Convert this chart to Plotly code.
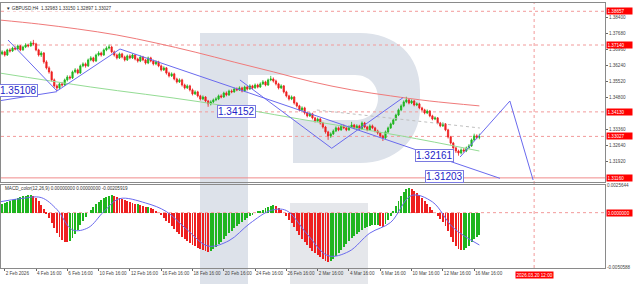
import plotly.graph_objects as go
import pandas as pd

# ---------------- data ----------------
first_open = 1.3665
close = [
    1.3674, 1.3683, 1.3669, 1.3692, 1.3687, 1.3700, 1.3696, 1.3710, 1.3692, 1.3705,
    1.3714, 1.3710, 1.3723, 1.3719, 1.3692, 1.3669, 1.3678, 1.3638, 1.3611, 1.3593,
    1.3557, 1.3530, 1.3521, 1.3539, 1.3534, 1.3557, 1.3570, 1.3566, 1.3593, 1.3602,
    1.3588, 1.3620, 1.3629, 1.3620, 1.3647, 1.3656, 1.3642, 1.3669, 1.3678, 1.3669,
    1.3692, 1.3700, 1.3705, 1.3683, 1.3669, 1.3656, 1.3674, 1.3660, 1.3647, 1.3665,
    1.3656, 1.3669, 1.3651, 1.3642, 1.3660, 1.3647, 1.3633, 1.3656, 1.3642, 1.3629,
    1.3638, 1.3620, 1.3602, 1.3611, 1.3588, 1.3575, 1.3584, 1.3561, 1.3548, 1.3557,
    1.3534, 1.3521, 1.3530, 1.3512, 1.3494, 1.3503, 1.3485, 1.3471, 1.3480, 1.3462,
    1.3449, 1.3458, 1.3467, 1.3471, 1.3485, 1.3480, 1.3498, 1.3489, 1.3507, 1.3503,
    1.3516, 1.3512, 1.3521, 1.3507, 1.3525, 1.3516, 1.3530, 1.3521, 1.3534, 1.3525,
    1.3539, 1.3548, 1.3534, 1.3557, 1.3561, 1.3552, 1.3539, 1.3521, 1.3530, 1.3503,
    1.3485, 1.3471, 1.3480, 1.3453, 1.3440, 1.3422, 1.3431, 1.3408, 1.3395, 1.3404,
    1.3386, 1.3372, 1.3381, 1.3363, 1.3345, 1.3323, 1.3305, 1.3314, 1.3327, 1.3341,
    1.3332, 1.3350, 1.3341, 1.3332, 1.3345, 1.3354, 1.3341, 1.3350, 1.3336, 1.3363,
    1.3345, 1.3332, 1.3350, 1.3341, 1.3327, 1.3318, 1.3305, 1.3296, 1.3323, 1.3341,
    1.3359, 1.3377, 1.3399, 1.3422, 1.3440, 1.3458, 1.3467, 1.3453, 1.3462, 1.3444,
    1.3449, 1.3431, 1.3422, 1.3408, 1.3417, 1.3395, 1.3381, 1.3386, 1.3363, 1.3350,
    1.3359, 1.3332, 1.3300, 1.3273, 1.3251, 1.3237, 1.3228, 1.3242, 1.3237, 1.3251,
    1.3260, 1.3287, 1.3305, 1.32983, 1.33027,
]
high = [
    1.3680, 1.3690, 1.3688, 1.3697, 1.3699, 1.3706, 1.3708, 1.3716, 1.3714, 1.3711,
    1.3722, 1.3720, 1.3731, 1.3737, 1.3724, 1.3697, 1.3686, 1.3682, 1.3645, 1.3618,
    1.3598, 1.3563, 1.3537, 1.3545, 1.3548, 1.3563, 1.3578, 1.3577, 1.3599, 1.3610,
    1.3608, 1.3626, 1.3636, 1.3635, 1.3653, 1.3664, 1.3661, 1.3675, 1.3686, 1.3684,
    1.3698, 1.3708, 1.3716, 1.3710, 1.3689, 1.3675, 1.3680, 1.3679, 1.3666, 1.3671,
    1.3672, 1.3676, 1.3673, 1.3657, 1.3667, 1.3665, 1.3652, 1.3662, 1.3661, 1.3648,
    1.3645, 1.3643, 1.3626, 1.3618, 1.3615, 1.3594, 1.3591, 1.3589, 1.3567, 1.3564,
    1.3562, 1.3540, 1.3537, 1.3535, 1.3518, 1.3510, 1.3508, 1.3490, 1.3487, 1.3484,
    1.3467, 1.3465, 1.3473, 1.3479, 1.3491, 1.3492, 1.3504, 1.3505, 1.3513, 1.3514,
    1.3522, 1.3523, 1.3528, 1.3526, 1.3531, 1.3530, 1.3537, 1.3535, 1.3541, 1.3540,
    1.3546, 1.3556, 1.3553, 1.3563, 1.3575, 1.3568, 1.3558, 1.3544, 1.3537, 1.3534,
    1.3508, 1.3490, 1.3487, 1.3484, 1.3458, 1.3445, 1.3438, 1.3436, 1.3413, 1.3411,
    1.3409, 1.3391, 1.3388, 1.3386, 1.3368, 1.3350, 1.3328, 1.3321, 1.3334, 1.3348,
    1.3347, 1.3357, 1.3356, 1.3346, 1.3352, 1.3368, 1.3359, 1.3357, 1.3355, 1.3370,
    1.3368, 1.3350, 1.3357, 1.3356, 1.3346, 1.3333, 1.3323, 1.3310, 1.3329, 1.3347,
    1.3365, 1.3383, 1.3405, 1.3428, 1.3447, 1.3465, 1.3481, 1.3474, 1.3469, 1.3467,
    1.3456, 1.3454, 1.3436, 1.3427, 1.3424, 1.3421, 1.3400, 1.3393, 1.3390, 1.3368,
    1.3366, 1.3363, 1.3337, 1.3305, 1.3278, 1.3256, 1.3243, 1.3249, 1.3250, 1.3257,
    1.3268, 1.3293, 1.3315, 1.3312, 1.33150,
]
low = [
    1.3660, 1.3668, 1.3662, 1.3665, 1.3680, 1.3683, 1.3690, 1.3692, 1.3686, 1.3688,
    1.3700, 1.3703, 1.3706, 1.3712, 1.3686, 1.3662, 1.3660, 1.3630, 1.3604, 1.3585,
    1.3550, 1.3522, 1.3508, 1.3515, 1.3526, 1.3530, 1.3550, 1.3558, 1.3561, 1.3587,
    1.3582, 1.3584, 1.3614, 1.3612, 1.3615, 1.3641, 1.3636, 1.3638, 1.3663, 1.3662,
    1.3665, 1.3686, 1.3694, 1.3677, 1.3662, 1.3649, 1.3651, 1.3654, 1.3640, 1.3642,
    1.3650, 1.3651, 1.3645, 1.3635, 1.3637, 1.3641, 1.3626, 1.3628, 1.3636, 1.3622,
    1.3623, 1.3614, 1.3595, 1.3597, 1.3581, 1.3568, 1.3570, 1.3555, 1.3541, 1.3543,
    1.3527, 1.3514, 1.3516, 1.3505, 1.3487, 1.3489, 1.3478, 1.3464, 1.3466, 1.3455,
    1.3436, 1.3442, 1.3452, 1.3461, 1.3466, 1.3474, 1.3476, 1.3483, 1.3485, 1.3497,
    1.3499, 1.3506, 1.3507, 1.3501, 1.3503, 1.3510, 1.3512, 1.3515, 1.3517, 1.3519,
    1.3521, 1.3534, 1.3528, 1.3530, 1.3551, 1.3545, 1.3532, 1.3514, 1.3516, 1.3496,
    1.3478, 1.3464, 1.3466, 1.3446, 1.3433, 1.3415, 1.3417, 1.3401, 1.3388, 1.3390,
    1.3379, 1.3365, 1.3367, 1.3356, 1.3338, 1.3315, 1.3287, 1.3296, 1.3309, 1.3322,
    1.3326, 1.3328, 1.3335, 1.3326, 1.3328, 1.3340, 1.3335, 1.3336, 1.3330, 1.3332,
    1.3339, 1.3326, 1.3328, 1.3335, 1.3321, 1.3311, 1.3298, 1.3282, 1.3291, 1.3318,
    1.3336, 1.3354, 1.3372, 1.3394, 1.3416, 1.3434, 1.3452, 1.3447, 1.3448, 1.3438,
    1.3439, 1.3425, 1.3416, 1.3402, 1.3403, 1.3389, 1.3375, 1.3376, 1.3357, 1.3344,
    1.3345, 1.3326, 1.3293, 1.3266, 1.3244, 1.3228, 1.3216, 1.3222, 1.3230, 1.3232,
    1.3245, 1.3255, 1.3281, 1.3290, 1.32897,
]
macd = [
    0.00074, 0.00084, 0.00093, 0.00102, 0.00112, 0.00121, 0.0013, 0.0014, 0.00149, 0.00153,
    0.00158, 0.00163, 0.00167, 0.00158, 0.0014, 0.00112, 0.00074, 0.00037,
    -0.00009, -0.00047, -0.00093, -0.0014, -0.00186, -0.00223, -0.00251, -0.0027, -0.00274,
    -0.0026, -0.00233, -0.00195, -0.00158, -0.00112, -0.00074, -0.00037, 0.0,
    0.00028, 0.00056, 0.00084, 0.00102, 0.00121, 0.0014, 0.00149, 0.00158, 0.00163, 0.00158,
    0.00149, 0.0014, 0.0013, 0.00121, 0.00112, 0.00102, 0.00093, 0.00084, 0.00084, 0.00074,
    0.00065, 0.00056, 0.00056, 0.00047,
    0.00037, 0.00019, 0.0, -0.00019, -0.00047, -0.00074, -0.00093, -0.00121, -0.00149, -0.00177,
    -0.00195, -0.00223, -0.00242, -0.0026, -0.00279, -0.00298, -0.00307, -0.00326, -0.00335,
    -0.00344, -0.00353, -0.00363, -0.00353,
    -0.00335, -0.00316, -0.00288, -0.0027, -0.00242, -0.00214, -0.00186, -0.00167, -0.0014,
    -0.00121, -0.00102, -0.00084, -0.00065, -0.00047, -0.00028, -0.00019, 0.0, 0.00009,
    0.00019, 0.00028, 0.00047, 0.00056, 0.00065, 0.00074,
    0.00065, 0.00047, 0.00028, 0.0, -0.00028, -0.00065, -0.00093, -0.0013, -0.00167, -0.00205,
    -0.00242, -0.0027, -0.00298, -0.00326, -0.00353, -0.00372, -0.00391, -0.00409, -0.00428,
    -0.00446, -0.00456, -0.00446,
    -0.00428, -0.004, -0.00372, -0.00344, -0.00316, -0.00288, -0.0026, -0.00233, -0.00214,
    -0.00195, -0.00177, -0.00158, -0.0014, -0.0013, -0.00121, -0.00112, -0.00112, -0.00112,
    -0.00121, -0.0013,
    -0.00102, -0.00065, -0.00028, 0.00019, 0.00065, 0.00112, 0.00158, 0.00195, 0.00223,
    0.00233, 0.00223, 0.00205, 0.00186, 0.00167, 0.0014, 0.00112, 0.00084, 0.00056, 0.00028,
    0.0, -0.00028, -0.00056, -0.00084, -0.00121, -0.00167, -0.00223, -0.0027, -0.00307, -0.00335,
    -0.00344, -0.00344, -0.00326, -0.00307, -0.0027, -0.00242, -0.00223, -0.00206,
]
signal_idx = [0, 8, 16, 22, 28, 34, 40, 46, 56, 64, 72, 80, 88, 96, 104, 110, 118, 126,
              134, 142, 150, 158, 166, 174, 184]
signal_val = [0.0010, 0.0013, 0.0014, 0.0003, -0.0016, -0.0014, 0.0001, 0.0013, 0.0009,
              0.0001, -0.0016, -0.0031, -0.0026, -0.0010, 0.0002, 0.0002, -0.0020, -0.0040,
              -0.0036, -0.0019, -0.0009, 0.0016, 0.0010, -0.0014, -0.0030]

ma_slow_idx = [0, 15, 30, 45, 60, 75, 90, 105, 120, 135, 150, 165, 184]
ma_slow_val = [1.38265, 1.38085, 1.3786, 1.3759, 1.3723, 1.3682, 1.3637, 1.3593,
               1.3548, 1.3512, 1.3485, 1.3462, 1.3440]
ma_fast_idx = [0, 35, 77, 115, 154, 184]
ma_fast_val = [1.3588, 1.3525, 1.3458, 1.3381, 1.3305, 1.3237]

# analysis lines: (bar index, price)
wave_lines = [
    [(3.26, 1.37365), (22.05, 1.3507)],
    [(0.19, 1.34634), (22.05, 1.3504)],
    [(22.05, 1.3507), (46.2, 1.3696)],
    [(46.2, 1.3696), (191.9, 1.3114)],
    [(92.2, 1.35565), (127.4, 1.32492)],
    [(127.4, 1.32492), (154.7, 1.34769)],
    [(176.6, 1.3210), (195.7, 1.3462), (204.6, 1.31065)],
]
dotted_trend = [(121.7, 1.34215), (184.2, 1.33405)]

box_labels = [("1.35108", 14.76, 1.35108, "right"), ("1.34152", 83.4, 1.34152, "left"),
              ("1.32161", 159.3, 1.32161, "left"), ("1.31203", 163.2, 1.31203, "left")]

level_prices = [1.38657, 1.3714, 1.3413, 1.33027]
level_texts = ["1.38657", "1.37140", "1.34130", "1.33027"]
solid_level = 1.3116
solid_level_text = "1.31160"

price_ticks = [1.384, 1.3768, 1.3696, 1.3624, 1.3552, 1.348, 1.3336, 1.3264, 1.3192]
macd_ticks = [0.0025644, -0.0050588]
macd_tick_text = ["0.0025644", "-0.0050588"]
macd_level = 0.0
macd_level_text = "0.0000000"

tick_times = ["2026-02-02 16:00", "2026-02-04 16:00", "2026-02-06 16:00", "2026-02-10 16:00",
              "2026-02-12 16:00", "2026-02-16 16:00", "2026-02-18 16:00", "2026-02-20 16:00",
              "2026-02-24 16:00", "2026-02-26 16:00", "2026-03-02 16:00", "2026-03-04 16:00",
              "2026-03-06 16:00", "2026-03-10 16:00", "2026-03-12 16:00", "2026-03-16 16:00"]
tick_labels = ["2 Feb 2026", "4 Feb 16:00", "6 Feb 16:00", "10 Feb 16:00", "12 Feb 16:00",
               "16 Feb 16:00", "18 Feb 16:00", "20 Feb 16:00", "24 Feb 16:00", "26 Feb 16:00",
               "2 Mar 16:00", "4 Mar 16:00", "6 Mar 16:00", "10 Mar 16:00", "12 Mar 16:00",
               "16 Mar 16:00"]
vline_time = "2026-03-20 12:00"
vline_text = "2026.03.20 12:00"

header = "▼ GBPUSD,H4  1.32983 1.33150 1.32897 1.33027"
macd_header = "MACD_color(12,26,9) 0.00000000 0.00000000 -0.00205919"

# ---------------- time axis (H4 bars, weekdays) ----------------
days = pd.bdate_range("2026-02-02", "2026-03-31")
times = [d + pd.Timedelta(hours=h) for d in days for h in range(0, 24, 4)][2:]
pos = {t: i for i, t in enumerate(times)}
def xi(s):
    return pos[pd.Timestamp(s)]

n = len(close)
xs = list(range(n))
opens = [first_open] + close[:-1]

GREEN = "#1fb51f"
RED = "#ee2020"
BLUE = "#6a6aee"
DOT = "#f29a9a"
FONT = "Liberation Sans"

fig = go.Figure()

fig.add_trace(go.Candlestick(
    x=xs, open=opens, high=high, low=low, close=close, xaxis="x2", yaxis="y",
    increasing=dict(line=dict(color=GREEN, width=0.8), fillcolor=GREEN),
    decreasing=dict(line=dict(color=RED, width=0.8), fillcolor=RED),
    whiskerwidth=0, showlegend=False, hoverinfo="skip"))

fig.add_trace(go.Scatter(x=ma_slow_idx, y=ma_slow_val, mode="lines", line=dict(color="#f07a7a", width=1, shape="spline"),
                         xaxis="x2", yaxis="y", showlegend=False, hoverinfo="skip"))
fig.add_trace(go.Scatter(x=ma_fast_idx, y=ma_fast_val, mode="lines", line=dict(color="#94dc94", width=1, shape="spline"),
                         xaxis="x2", yaxis="y", showlegend=False, hoverinfo="skip"))
fig.add_trace(go.Scatter(x=[p[0] for p in dotted_trend], y=[p[1] for p in dotted_trend], mode="lines",
                         line=dict(color="#c0c0c0", width=1, dash="dot"),
                         xaxis="x2", yaxis="y", showlegend=False, hoverinfo="skip"))
for ln in wave_lines:
    fig.add_trace(go.Scatter(x=[p[0] for p in ln], y=[p[1] for p in ln], mode="lines",
                             line=dict(color=BLUE, width=1), xaxis="x2", yaxis="y",
                             showlegend=False, hoverinfo="skip"))

bar_colors = [GREEN if (i > 0 and macd[i] >= macd[i - 1]) or i == 0 else RED for i in range(n)]
fig.add_trace(go.Bar(x=xs, y=macd, marker=dict(color=bar_colors, line=dict(width=0)), width=0.36,
                     xaxis="x", yaxis="y2", showlegend=False, hoverinfo="skip"))
fig.add_trace(go.Scatter(x=signal_idx, y=signal_val, mode="lines", line=dict(color=BLUE, width=1, shape="spline"),
                         xaxis="x", yaxis="y2", showlegend=False, hoverinfo="skip"))

# ---------------- layout geometry ----------------
W, H = 633, 284
L, R, T, B = 1, 28, 3, 16
PW, PH = W - L - R, H - T - B
def pxp(x, y):
    return (x - L) / PW, (H - B - y) / PH

main_bottom = pxp(0, 182)[1]
macd_top = pxp(0, 185)[1]
x_left = (L + 0.5) / 2.608
x_right = (L + PW + 0.5) / 2.608

def P(x, y):
    a, b = pxp(x, y)
    return f"{a:.5f},{b:.5f}"

shapes = []
wm = "#dde2ea"
stem = f"M{P(200,33)} L{P(248,33)} L{P(248,284)} L{P(200,284)} Z"
bowl = (f"M{P(248,33)} L{P(360,33)} C{P(395,33)} {P(420,55)} {P(420,90)} L{P(420,108)} "
        f"C{P(420,140)} {P(395,163)} {P(360,163)} L{P(293,163)} L{P(293,120)} L{P(355,120)} "
        f"C{P(370,120)} {P(378,110)} {P(378,98)} C{P(378,86)} {P(370,75)} {P(355,75)} L{P(248,75)} Z")
leg = f"M{P(290,203)} L{P(368,203)} L{P(368,284)} L{P(290,284)} Z"
for pth, col in [(stem, wm), (bowl, wm), (leg, "#e5e7eb")]:
    shapes.append(dict(type="path", path=pth, xref="paper", yref="paper", fillcolor=col,
                       line=dict(width=0), layer="below"))

for pr in level_prices:
    shapes.append(dict(type="line", xref="paper", yref="y", x0=0, x1=1, y0=pr, y1=pr,
                       line=dict(color=DOT, width=1, dash="dot"), layer="below"))
shapes.append(dict(type="line", xref="paper", yref="y", x0=0, x1=1, y0=solid_level, y1=solid_level,
                   line=dict(color="#f08a8a", width=1), layer="below"))
shapes.append(dict(type="line", xref="paper", yref="y2", x0=0, x1=1, y0=macd_level, y1=macd_level,
                   line=dict(color=DOT, width=1, dash="dot"), layer="below"))
vx = xi(vline_time)
shapes.append(dict(type="line", xref="x", yref="paper", x0=vx, x1=vx, y0=0, y1=1,
                   line=dict(color=DOT, width=1, dash="dot"), layer="below"))

annotations = []
small = dict(family=FONT, size=4.6, color="#333333")
hx, hy = pxp(5, 9)
annotations.append(dict(text=header, xref="paper", yref="paper", x=hx, y=hy, xanchor="left", yanchor="middle",
                        showarrow=False, font=small, bgcolor="white", borderpad=0))
mx, my = pxp(3, 188)
annotations.append(dict(text=macd_header, xref="paper", yref="paper", x=mx, y=my, xanchor="left", yanchor="middle",
                        showarrow=False, font=small))
for txt, bx, by, anc in box_labels:
    annotations.append(dict(text=txt, xref="x2", yref="y", x=bx, y=by, xanchor=anc, yanchor="middle",
                            showarrow=False, font=dict(family=FONT, size=10, color="#2323c8"),
                            bgcolor="white", bordercolor="#7a7ae0", borderwidth=1, borderpad=0))
redfont = dict(family=FONT, size=4.6, color="white")
for pr, txt in zip(level_prices + [solid_level], level_texts + [solid_level_text]):
    annotations.append(dict(text=txt, xref="paper", yref="y", x=1, y=pr, xanchor="left", yanchor="middle",
                            xshift=1, showarrow=False, font=redfont, bgcolor="#ff0000", width=24,
                            align="left", borderpad=0.5))
annotations.append(dict(text=macd_level_text, xref="paper", yref="y2", x=1, y=macd_level, xanchor="left",
                        yanchor="middle", xshift=1, showarrow=False, font=redfont, bgcolor="#ff0000",
                        width=24, align="left", borderpad=0.5))
annotations.append(dict(text=vline_text, xref="x", yref="paper", x=vx, y=pxp(0, 275)[1], xanchor="center",
                        yanchor="middle", showarrow=False, font=redfont, bgcolor="#ff0000", borderpad=0.5))

axis_font = dict(family=FONT, size=4.6, color="#444444")
fig.update_layout(
    width=W, height=H, margin=dict(l=L, r=R, t=T, b=B),
    paper_bgcolor="white", plot_bgcolor="rgba(0,0,0,0)",
    showlegend=False, bargap=0,
    xaxis=dict(domain=[0, 1], anchor="y2", range=[x_left, x_right], showgrid=False, zeroline=False,
               showline=True, mirror=True, linecolor="#8a8a8a", linewidth=1,
               tickmode="array", tickvals=[xi(t) for t in tick_times], ticktext=tick_labels,
               ticks="outside", ticklen=2, tickcolor="#666", tickfont=axis_font, tickangle=0,
               ticklabelposition="outside right", rangeslider=dict(visible=False)),
    xaxis2=dict(domain=[0, 1], anchor="y", matches="x", range=[x_left, x_right], showgrid=False,
                zeroline=False, showline=True, mirror=True, linecolor="#8a8a8a", linewidth=1,
                showticklabels=False, ticks="", rangeslider=dict(visible=False)),
    yaxis=dict(domain=[main_bottom, 1], anchor="x2", side="right", range=[1.30975, 1.3903],
               showgrid=False, zeroline=False, showline=True, mirror=True, linecolor="#8a8a8a",
               tickmode="array", tickvals=price_ticks, ticktext=[f"{v:.5f}" for v in price_ticks],
               ticks="outside", ticklen=2, tickcolor="#666", tickfont=axis_font),
    yaxis2=dict(domain=[0, macd_top], anchor="x", side="right", range=[-0.00514, 0.00257],
                showgrid=False, zeroline=False, showline=True, mirror=True, linecolor="#8a8a8a",
                tickmode="array", tickvals=macd_ticks, ticktext=macd_tick_text,
                ticks="", tickfont=axis_font),
    shapes=shapes, annotations=annotations,
)

fig.write_html("out.html")
